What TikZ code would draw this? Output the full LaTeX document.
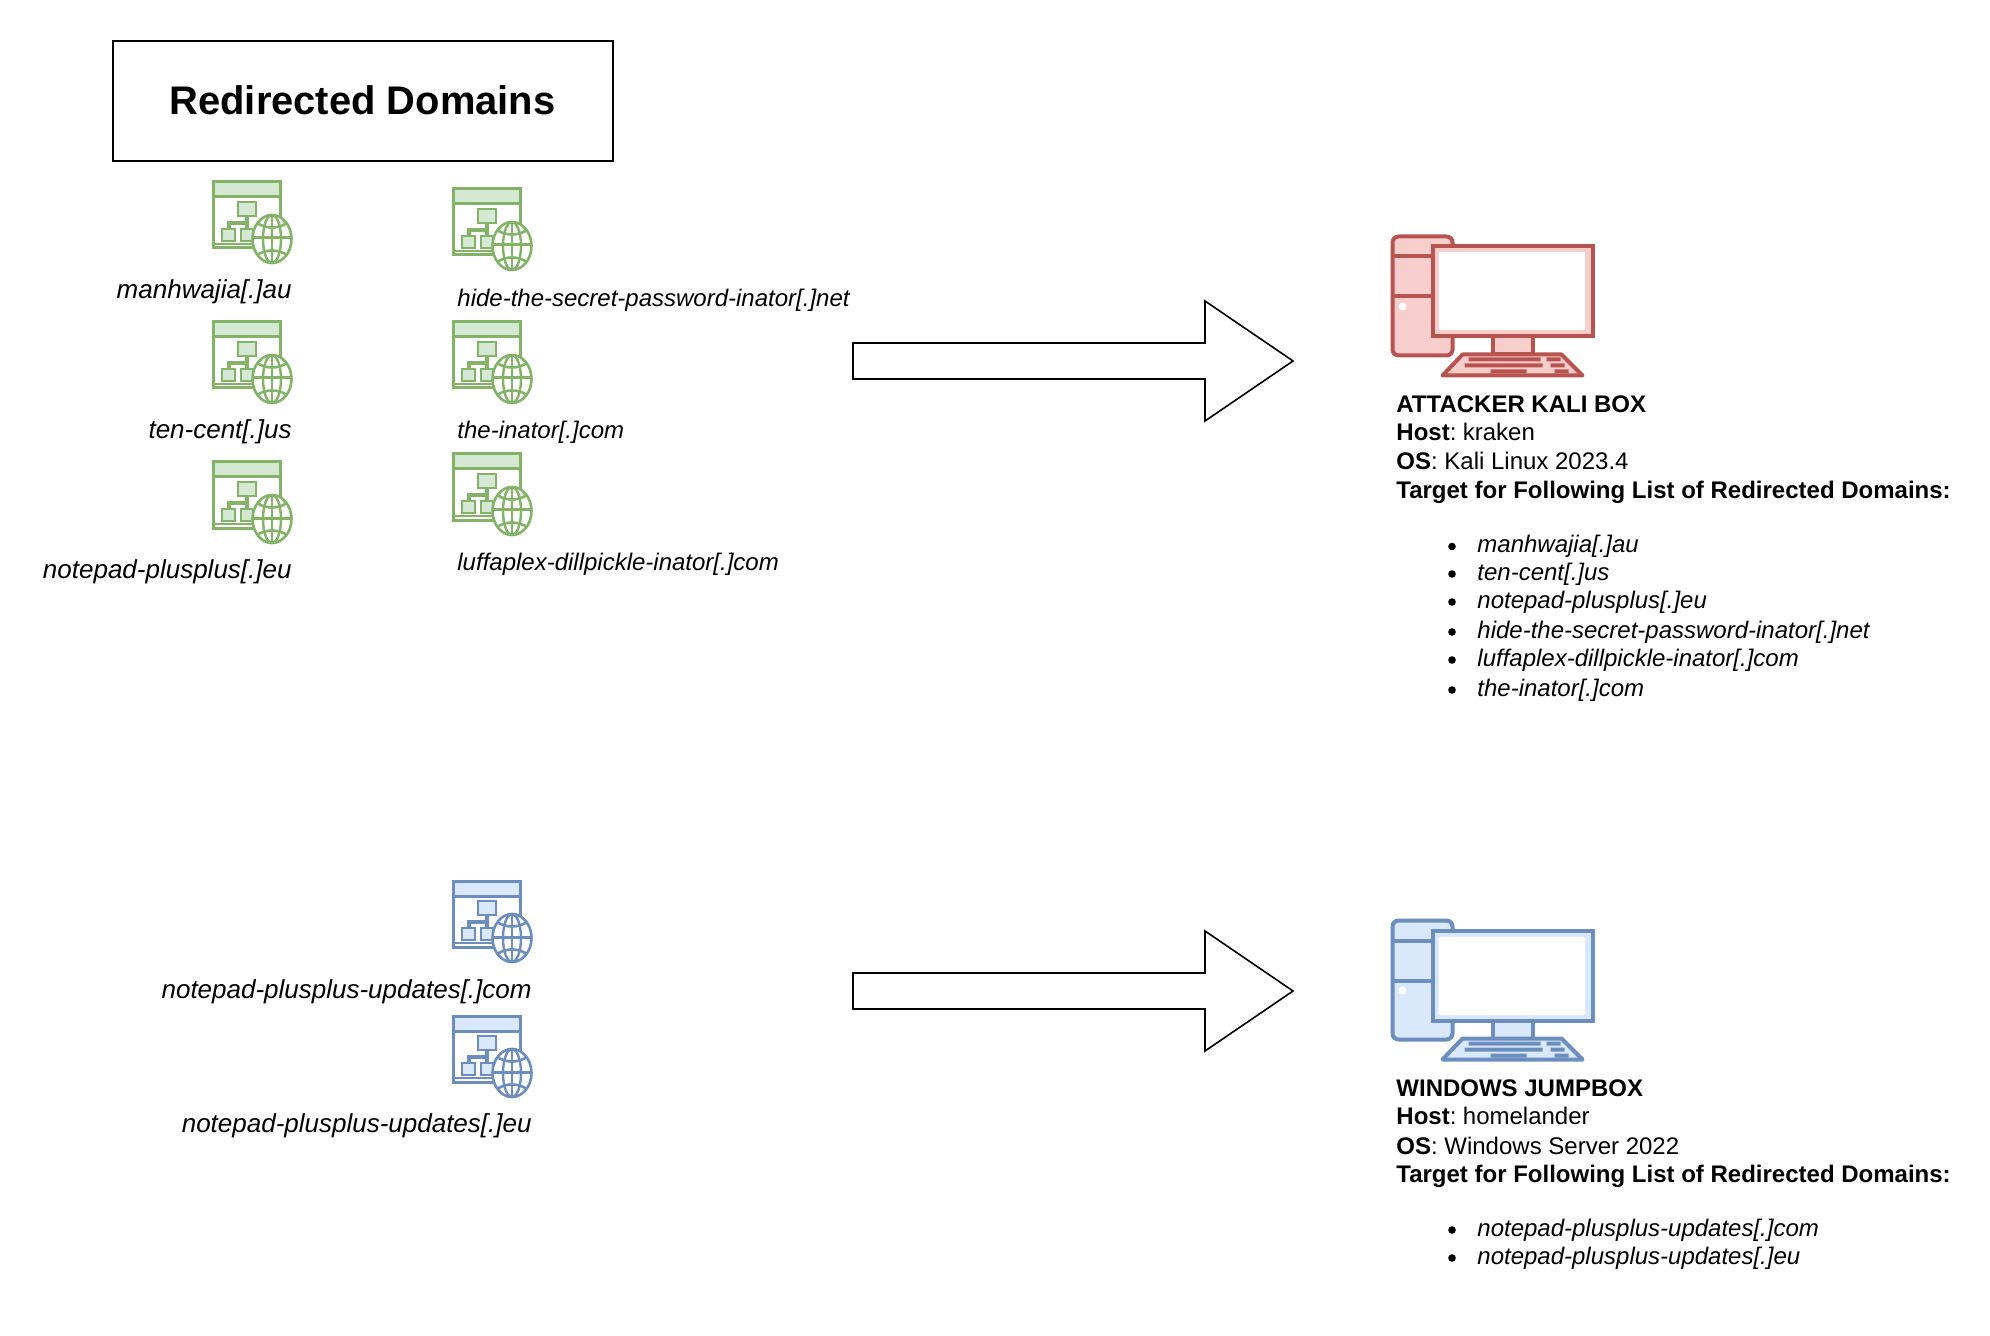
\documentclass[tikz,border=0pt]{standalone}
\usepackage{fontspec}
\setmainfont{Liberation Sans}
\definecolor{greenline}{HTML}{82B366}
\definecolor{greenfill}{HTML}{D5E8D4}
\definecolor{blueline}{HTML}{6C8EBF}
\definecolor{bluefill}{HTML}{DAE8FC}
\definecolor{redline}{HTML}{B85450}
\definecolor{redfill}{HTML}{F8CECC}
\tikzset{
  pics/website/.style 2 args={code={
    \draw[line width=1.5pt,draw=#1,fill=white] (0,0) rectangle (67,66);
    \draw[line width=1.5pt,draw=#1,fill=#2] (0,0) rectangle (67,15);
    \draw[line width=.7pt,draw=#1] (1,62) -- (66,62);
    \draw[line width=1.6pt,draw=#1] (34,34) -- (34,47) (16,47) -- (16,41) -- (34,41);
    \draw[line width=1.4pt,draw=#1,fill=#2] (25,20) rectangle (43,34);
    \draw[line width=1.4pt,draw=#1,fill=#2] (9,47) rectangle (22,59);
    \draw[line width=1.4pt,draw=#1,fill=#2] (28,47) rectangle (40,59);
    \draw[line width=1.3pt,draw=#1,fill=white] (59,57) ellipse [x radius=19.5,y radius=24];
    \draw[line width=1.2pt,draw=#1] (59,57) ellipse [x radius=9,y radius=24];
    \draw[line width=1.1pt,draw=#1] (59,33) -- (59,81);
    \draw[line width=1.5pt,draw=#1] (39.5,56) -- (78.5,56);
    \draw[line width=1.3pt,draw=#1] (44,41) .. controls (53,47) and (65,47) .. (74,41);
    \draw[line width=1.3pt,draw=#1] (44,73) .. controls (53,67) and (65,67) .. (74,73);
  }},
  pics/computer/.style 2 args={code={
    % tower
    \draw[line width=2pt,draw=#1,fill=#2,rounded corners=3pt] (2,2) rectangle (62,121);
    \draw[line width=2pt,draw=#1] (2,22) -- (42,22) (2,62) -- (42,62);
    \fill[white] (12,72) circle (4);
    % monitor
    \draw[line width=2pt,draw=#1,fill=#2] (102,102) rectangle (142,120);
    \draw[line width=2pt,draw=#1,fill=#2] (42,12) rectangle (202,102);
    \fill[white] (48,18) rectangle (194,96);
    % keyboard
    \draw[line width=2pt,draw=#1,fill=#2,line join=round] (72,120) -- (171,120) -- (192,141) -- (52,141) -- cycle;
    \fill[#1] (78,123) rectangle (150,127) (156,123) rectangle (170,127);
    \fill[#1] (74,129) rectangle (152,133) (160,129) rectangle (174,133);
    \fill[#1] (100,135) rectangle (136,139) (164,135) rectangle (178,139);
  }},
  title/.style = {draw,line width=1pt,minimum width=250pt,minimum height=60pt,text depth=1.3pt,font=\fontsize{19.95}{24}\selectfont\bfseries},
  site/.style = {font=\fontsize{13}{16}\selectfont\itshape,inner sep=0pt},
  smallsite/.style = {font=\fontsize{12}{15}\selectfont\itshape,inner sep=0pt},
  info/.style = {font=\fontsize{12}{14}\selectfont,inner sep=0pt,anchor=base west},
  listitem/.style = {info,font=\fontsize{12}{14}\selectfont\itshape},
  dot/.style = {circle,fill=black,inner sep=0pt,minimum size=3.8pt},
  bigarrow/.style = {draw,line width=.8pt,fill=white,line join=miter}
}
\begin{document}
\begin{tikzpicture}[x=.5pt,y=-.5pt]
\useasboundingbox (0,0) rectangle (1990,1336);
% title
\node[title] (heading) at (362.5,101) {Redirected Domains};
% green sites
\pic at (213,182) {website={greenline}{greenfill}};
\pic at (453,189) {website={greenline}{greenfill}};
\pic at (213,322) {website={greenline}{greenfill}};
\pic at (453,322) {website={greenline}{greenfill}};
\pic at (213,462) {website={greenline}{greenfill}};
\pic at (453,454) {website={greenline}{greenfill}};
\node[site,anchor=base east] (manhwa) at (292,299) {manhwajia[.]au};
\node[site,anchor=base east] (tencent) at (292,439) {ten-cent[.]us};
\node[site,anchor=base east] (notepad) at (292,578) {notepad-plusplus[.]eu};
\node[smallsite,anchor=base west] (hide) at (457,307) {hide-the-secret-password-inator[.]net};
\node[smallsite,anchor=base west] (inator) at (457,439) {the-inator[.]com};
\node[smallsite,anchor=base west] (luffa) at (457,570) {luffaplex-dillpickle-inator[.]com};
% blue sites
\pic at (453,881) {website={blueline}{bluefill}};
\pic at (453,1016) {website={blueline}{bluefill}};
\node[site,anchor=base east] (updcom) at (532,998) {notepad-plusplus-updates[.]com};
\node[site,anchor=base east] (updeu) at (532,1132) {notepad-plusplus-updates[.]eu};
% block arrows
\draw[bigarrow] (853,343) -- (1205,343) -- (1205,301) -- (1293,361) -- (1205,421) -- (1205,379) -- (853,379) -- cycle;
\draw[bigarrow] (853,973) -- (1205,973) -- (1205,931) -- (1293,991) -- (1205,1051) -- (1205,1009) -- (853,1009) -- cycle;
% kali box
\pic at (1390.5,234.5) {computer={redline}{redfill}};
\node[info] (kaliname) at (1396,412.5) {\bfseries ATTACKER KALI BOX};
\node[info] (kalihost) at (1396,440.5) {\textbf{Host}:\kern-1.2pt{} kraken};
\node[info] (kalios) at (1396,470) {\textbf{OS}: Kali Linux 2023.4};
\node[info] (kalitarget) at (1396,498.5) {\bfseries Target for Following List of Redirected Domains:};
\foreach \domainname/\ypos [count=\n] in {manhwajia[.]au/552.5,ten-cent[.]us/580,notepad-plusplus[.]eu/608,hide-the-secret-password-inator[.]net/638,luffaplex-dillpickle-inator[.]com/666,the-inator[.]com/696} {
  \node[listitem] (kaliitem\n) at (1477,\ypos) {\domainname};
  \node[dot] (kalidot\n) at (1452,\ypos-6) {};
}
% windows box
\pic at (1390.5,918.5) {computer={blueline}{bluefill}};
\node[info] (winname) at (1396,1096) {\bfseries WINDOWS JUMPBOX};
\node[info] (winhost) at (1396,1124.5) {\textbf{Host}:\kern-1.2pt{} homelander};
\node[info] (winos) at (1396,1154) {\textbf{OS}: Windows Server 2022};
\node[info] (wintarget) at (1396,1182) {\bfseries Target for Following List of Redirected Domains:};
\foreach \domainname/\ypos [count=\n] in {notepad-plusplus-updates[.]com/1236,notepad-plusplus-updates[.]eu/1264} {
  \node[listitem] (winitem\n) at (1477,\ypos) {\domainname};
  \node[dot] (windot\n) at (1452,\ypos-6) {};
}
\end{tikzpicture}
\end{document}
